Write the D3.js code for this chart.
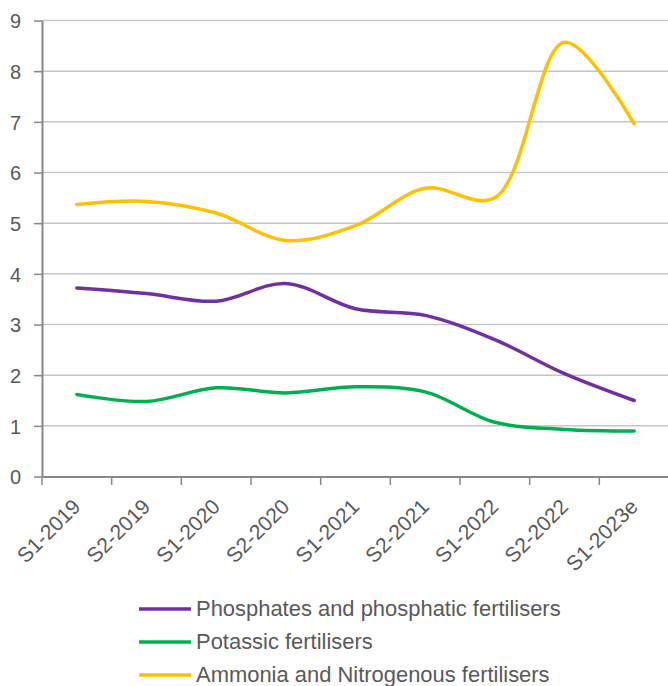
<!DOCTYPE html>
<html><head><meta charset="utf-8">
<script src="https://cdn.jsdelivr.net/npm/d3@7"></script>
<style>body{margin:0;background:#fff}svg{display:block}text{font-family:"Liberation Sans",Arial,sans-serif;fill:#595959}</style>
</head><body><svg id="c" width="668" height="686"></svg>
<script>
const categories = ["S1-2019","S2-2019","S1-2020","S2-2020","S1-2021","S2-2021","S1-2022","S2-2022","S1-2023e"];
const phosphates = [3.72,3.61,3.46,3.81,3.31,3.18,2.70,2.03,1.50];
const potassic   = [1.62,1.48,1.75,1.65,1.77,1.67,1.07,0.93,0.90];
const ammonia    = [5.37,5.43,5.20,4.66,4.95,5.69,5.50,8.57,6.96];
const yTicks = [0,1,2,3,4,5,6,7,8,9];
const seriesNames = ["Phosphates and phosphatic fertilisers","Potassic fertilisers","Ammonia and Nitrogenous fertilisers"];
const seriesColors = ["#7030a0","#00b050","#ffc000"];
const seriesValues = [phosphates, potassic, ammonia];

const svg = d3.select("#c");
const x = d3.scaleBand().domain(categories).range([42, 669]);
const y = d3.scaleLinear().domain([0, 9]).range([476.5, 20.5]);

// gridlines
svg.append("g").selectAll("line").data(yTicks.filter(d => d > 0)).join("line")
  .attr("x1", 42).attr("x2", 668).attr("y1", d => y(d)).attr("y2", d => y(d))
  .attr("stroke", "#c6c6c6").attr("stroke-width", 1.5);

// y axis
const ya = svg.append("g").attr("transform", "translate(42,0)")
  .call(d3.axisLeft(y).tickValues(yTicks).tickSize(8).tickSizeOuter(0).tickPadding(13).tickFormat(d3.format("d")));
ya.select(".domain").attr("stroke", "#878787").attr("stroke-width", 2);
ya.selectAll(".tick line").attr("stroke", "#878787").attr("stroke-width", 1.5);
ya.selectAll(".tick text").style("font-size", "20px").attr("fill", "#595959").attr("dy", "0.36em");

// x axis
const xa = svg.append("g").attr("transform", "translate(0,476.5)")
  .call(d3.axisBottom(x).tickSize(0).tickSizeOuter(0));
xa.select(".domain").attr("stroke", "#878787").attr("stroke-width", 2);
xa.selectAll(".tick text").remove();
svg.append("g").selectAll("line").data(categories).join("line")
  .attr("x1", d => x(d)).attr("x2", d => x(d)).attr("y1", 476.5).attr("y2", 485)
  .attr("stroke", "#878787").attr("stroke-width", 1.5);
svg.append("g").selectAll("text").data(categories).join("text")
  .attr("transform", d => `translate(${x(d) + x.bandwidth()/2 + 5},${508}) rotate(-45)`)
  .attr("text-anchor", "end")
  .style("font-size", "21px").text(d => d);

// lines
const line = d3.line().x((d, i) => x(categories[i]) + x.bandwidth()/2).y(d => y(d))
  .curve(d3.curveCatmullRom.alpha(0.5));
seriesValues.forEach((vals, k) => {
  svg.append("path").datum(vals).attr("d", line).attr("fill", "none")
    .attr("stroke", seriesColors[k]).attr("stroke-width", 3.5).attr("stroke-linecap", "round");
});

// legend
const lg = svg.append("g");
seriesNames.forEach((n, k) => {
  const yy = 609 + k * 33;
  lg.append("line").attr("x1", 139).attr("x2", 191).attr("y1", yy).attr("y2", yy)
    .attr("stroke", seriesColors[k]).attr("stroke-width", 3.5);
  const t = lg.append("text").attr("x", 196).attr("y", yy + 6.5)
    .style("font-size", "22.5px").text(n);
  const w = t.node().getComputedTextLength();
  t.attr("textLength", w * 0.975).attr("lengthAdjust", "spacingAndGlyphs");
});
</script></body></html>
